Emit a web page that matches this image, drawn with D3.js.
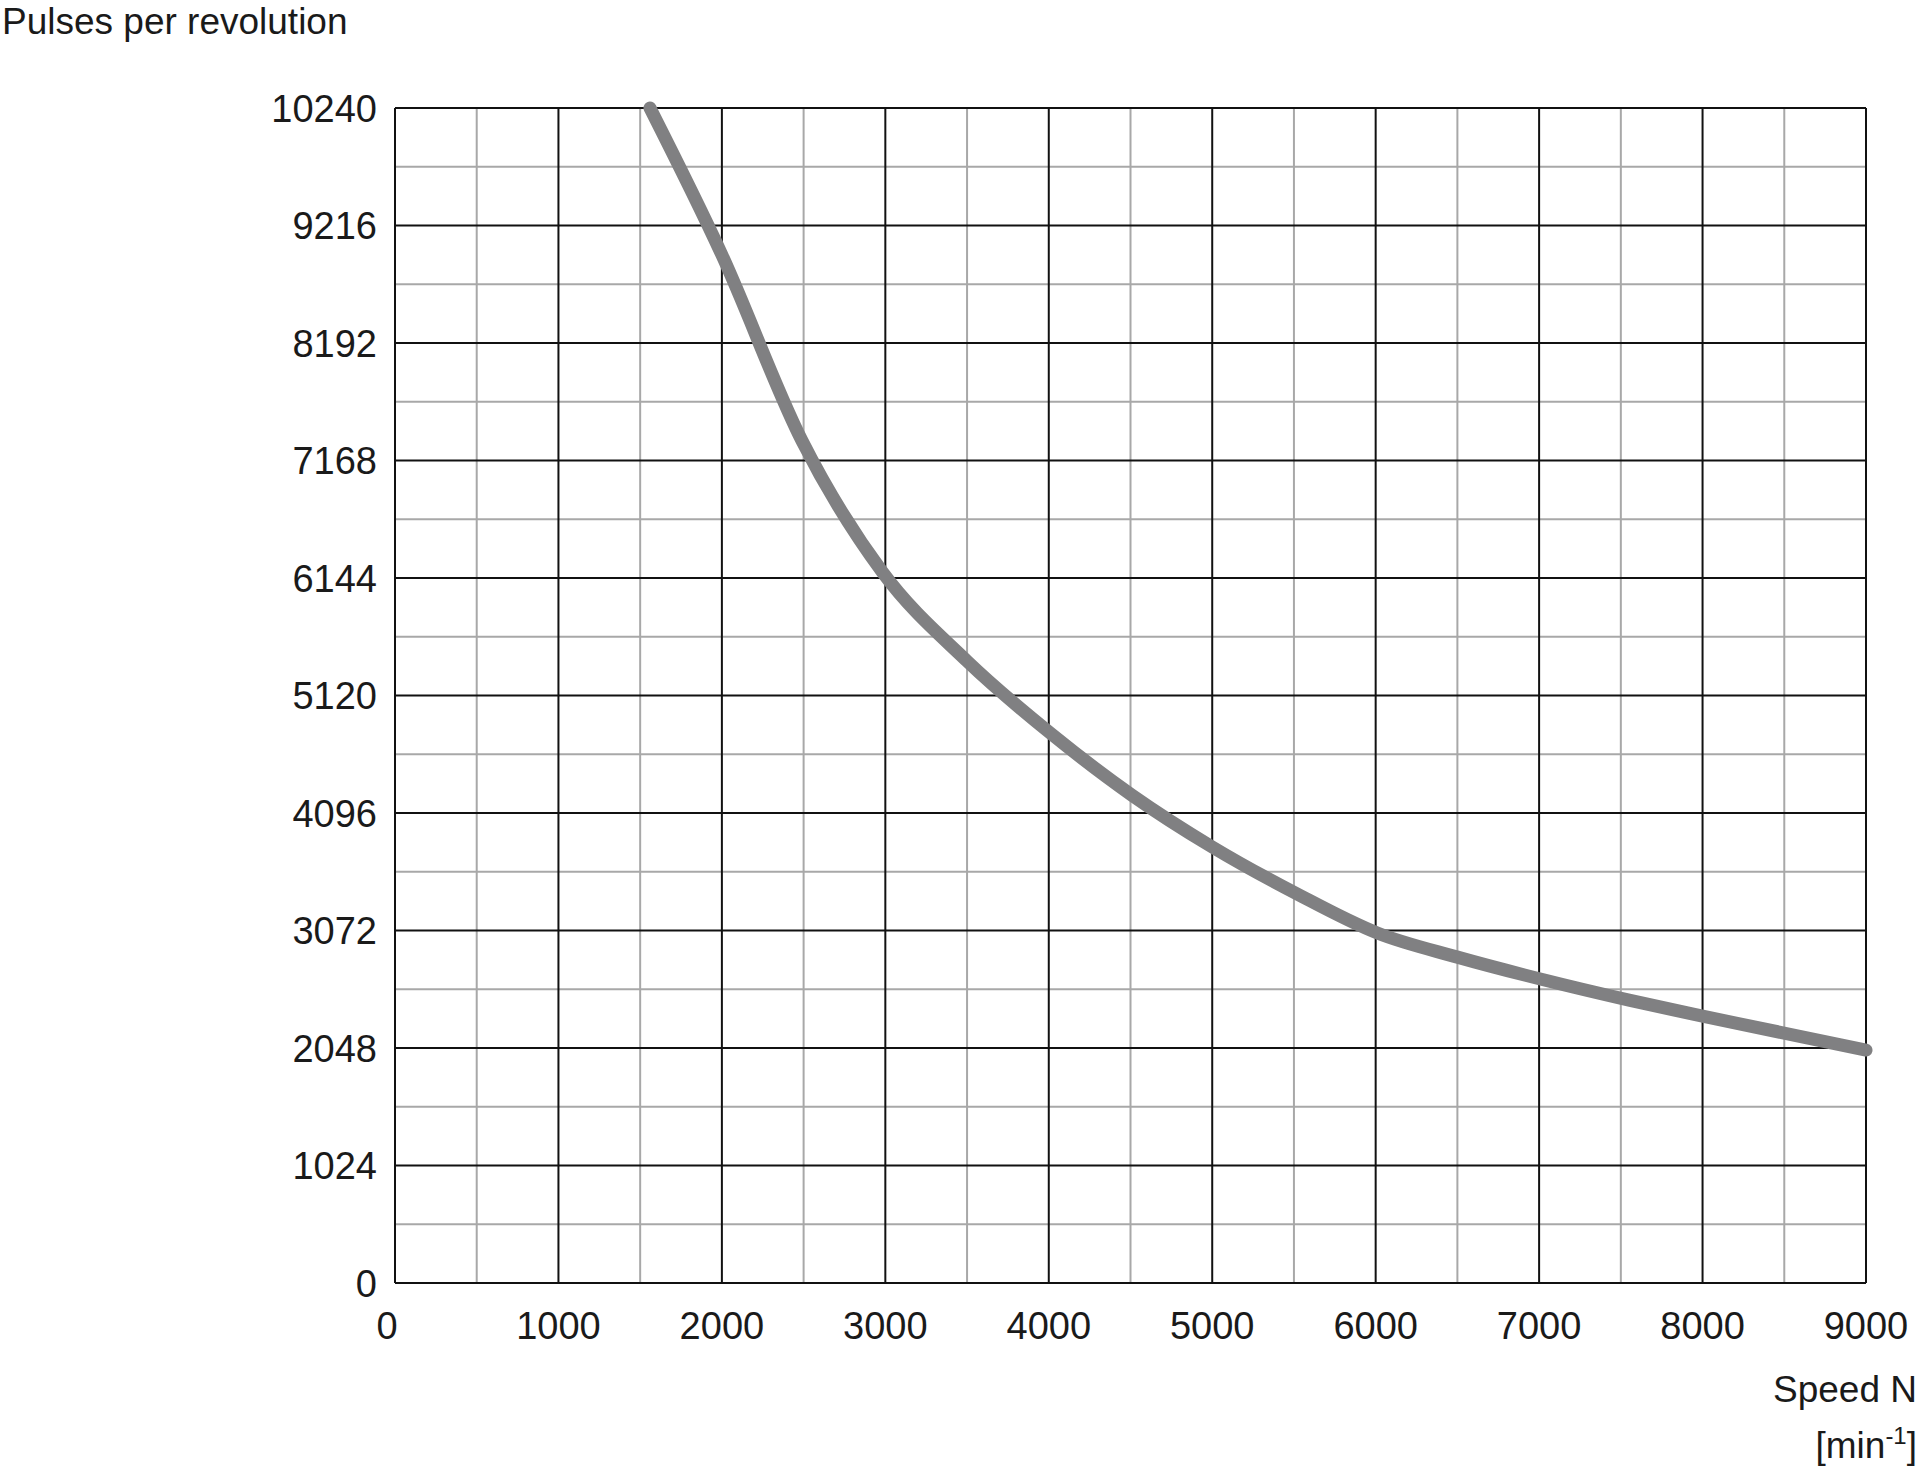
<!DOCTYPE html>
<html><head><meta charset="utf-8">
<script src="https://cdn.jsdelivr.net/npm/d3@7"></script>
<style>body{margin:0;background:#fff}svg{display:block}text{font-family:"Liberation Sans",Arial,sans-serif;fill:#1a1a1a}</style>
</head><body>
<svg id="chart" width="1920" height="1468"></svg>
<script>
// data
const speed = [1560, 2000, 2490, 2980, 3500, 4020, 4510, 5000, 5520, 6010, 6500, 7020, 7550, 8000, 9000];
const pulses = [10240, 8960, 7340, 6200, 5420, 4780, 4250, 3800, 3390, 3050, 2840, 2645, 2465, 2325, 2030];
const xTicks = [0, 1000, 2000, 3000, 4000, 5000, 6000, 7000, 8000, 9000];
const yTicks = [0, 1024, 2048, 3072, 4096, 5120, 6144, 7168, 8192, 9216, 10240];

const plotLeft = 395, plotRight = 1866, plotTop = 108, plotBottom = 1283;
const x = d3.scaleLinear().domain([0, 9000]).range([plotLeft, plotRight]);
const y = d3.scaleLinear().domain([0, 10240]).range([plotBottom, plotTop]);
const svg = d3.select("#chart");

// minor grid
const xMinor = d3.range(500, 9000, 1000), yMinor = d3.range(512, 10240, 1024);
svg.append("g").selectAll("line").data(xMinor).join("line")
  .attr("x1", d => x(d)).attr("x2", d => x(d)).attr("y1", plotTop).attr("y2", plotBottom)
  .attr("stroke", "#a8a8a8").attr("stroke-width", 2);
svg.append("g").selectAll("line").data(yMinor).join("line")
  .attr("y1", d => y(d)).attr("y2", d => y(d)).attr("x1", plotLeft).attr("x2", plotRight)
  .attr("stroke", "#a8a8a8").attr("stroke-width", 2);
// major grid
svg.append("g").selectAll("line").data(xTicks).join("line")
  .attr("x1", d => x(d)).attr("x2", d => x(d)).attr("y1", plotTop).attr("y2", plotBottom)
  .attr("stroke", "#111").attr("stroke-width", 2);
svg.append("g").selectAll("line").data(yTicks).join("line")
  .attr("y1", d => y(d)).attr("y2", d => y(d)).attr("x1", plotLeft).attr("x2", plotRight)
  .attr("stroke", "#111").attr("stroke-width", 2);

// labels
svg.append("g").selectAll("text").data(yTicks).join("text")
  .attr("x", plotLeft - 18).attr("y", d => y(d)).attr("dy", "0.36em")
  .attr("text-anchor", "end").attr("font-size", 38).text(d => d);
svg.append("g").selectAll("text").data(xTicks).join("text")
  .attr("x", d => x(d) + (d === 0 ? -8 : 0)).attr("y", 1339)
  .attr("text-anchor", "middle").attr("font-size", 38).text(d => d);

svg.append("text").attr("x", 2).attr("y", 34).attr("font-size", 37).text("Pulses per revolution");
svg.append("text").attr("x", 1917).attr("y", 1402).attr("text-anchor", "end").attr("font-size", 37).text("Speed N");
const u = svg.append("text").attr("x", 1917).attr("y", 1458).attr("text-anchor", "end").attr("font-size", 37);
u.append("tspan").text("[min");
u.append("tspan").attr("font-size", 24).attr("dy", -14).text("-1");
u.append("tspan").attr("dy", 14).text("]");

// curve
const line = d3.line().x((d, i) => x(speed[i])).y(d => y(d)).curve(d3.curveMonotoneX);
svg.append("path").datum(pulses).attr("d", line).attr("fill", "none")
  .attr("stroke", "#808082").attr("stroke-width", 13).attr("stroke-linecap", "round");
</script>
</body></html>
